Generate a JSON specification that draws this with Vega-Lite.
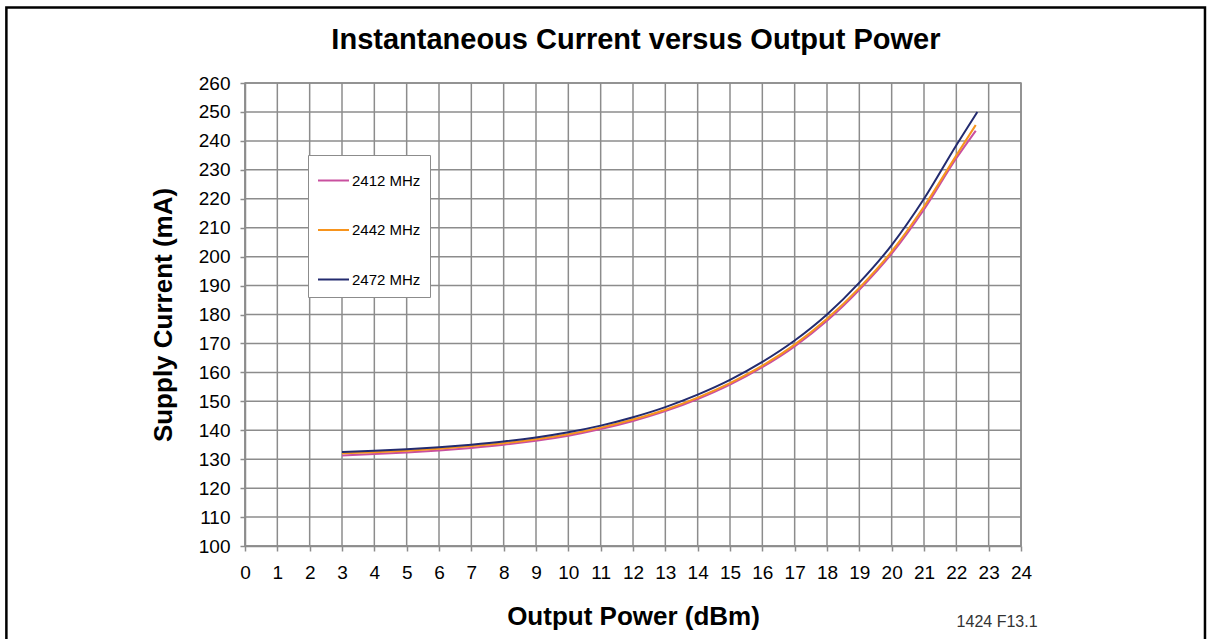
{
  "$schema": "https://vega.github.io/schema/vega-lite/v6.json",
  "width": 776,
  "height": 463,
  "autosize": {"type": "none"},
  "padding": {"left": 245, "top": 83, "right": 191, "bottom": 93},
  "background": "white",
  "config": {
    "font": "Liberation Sans",
    "view": {"stroke": "#8c8c8c", "strokeWidth": 1.5},
    "axis": {
      "grid": false,
      "domainColor": "#8c8c8c",
      "domainWidth": 1.5,
      "tickColor": "#8c8c8c",
      "tickWidth": 1.5,
      "tickSize": 5,
      "labelOverlap": false,
      "labelFont": "Liberation Sans",
      "labelFontSize": 19,
      "labelColor": "#000000",
      "titleFont": "Liberation Sans",
      "titleFontSize": 26,
      "titleFontWeight": "bold",
      "titleColor": "#000000"
    }
  },
  "datasets": {
    "vgrid": [
      {"gx": 0}, {"gx": 1}, {"gx": 2}, {"gx": 3}, {"gx": 4}, {"gx": 5}, {"gx": 6}, {"gx": 7}, {"gx": 8},
      {"gx": 9}, {"gx": 10}, {"gx": 11}, {"gx": 12}, {"gx": 13}, {"gx": 14}, {"gx": 15}, {"gx": 16},
      {"gx": 17}, {"gx": 18}, {"gx": 19}, {"gx": 20}, {"gx": 21}, {"gx": 22}, {"gx": 23}, {"gx": 24}
    ],
    "hgrid": [
      {"gy": 100}, {"gy": 110}, {"gy": 120}, {"gy": 130}, {"gy": 140}, {"gy": 150}, {"gy": 160}, {"gy": 170},
      {"gy": 180}, {"gy": 190}, {"gy": 200}, {"gy": 210}, {"gy": 220}, {"gy": 230}, {"gy": 240}, {"gy": 250}, {"gy": 260}
    ],
    "curves": [
      {"p": 3, "i": 131.3, "f": "2412 MHz"},
      {"p": 4, "i": 131.8, "f": "2412 MHz"},
      {"p": 5, "i": 132.3, "f": "2412 MHz"},
      {"p": 6, "i": 133.0, "f": "2412 MHz"},
      {"p": 7, "i": 133.9, "f": "2412 MHz"},
      {"p": 8, "i": 135.0, "f": "2412 MHz"},
      {"p": 9, "i": 136.4, "f": "2412 MHz"},
      {"p": 10, "i": 138.1, "f": "2412 MHz"},
      {"p": 11, "i": 140.4, "f": "2412 MHz"},
      {"p": 12, "i": 143.2, "f": "2412 MHz"},
      {"p": 13, "i": 146.6, "f": "2412 MHz"},
      {"p": 14, "i": 150.8, "f": "2412 MHz"},
      {"p": 15, "i": 155.8, "f": "2412 MHz"},
      {"p": 16, "i": 161.8, "f": "2412 MHz"},
      {"p": 17, "i": 169.0, "f": "2412 MHz"},
      {"p": 18, "i": 177.8, "f": "2412 MHz"},
      {"p": 19, "i": 188.5, "f": "2412 MHz"},
      {"p": 20, "i": 201.0, "f": "2412 MHz"},
      {"p": 21, "i": 216.3, "f": "2412 MHz"},
      {"p": 22, "i": 234.0, "f": "2412 MHz"},
      {"p": 22.6, "i": 243.5, "f": "2412 MHz"},
      {"p": 3, "i": 132.0, "f": "2442 MHz"},
      {"p": 4, "i": 132.4, "f": "2442 MHz"},
      {"p": 5, "i": 132.9, "f": "2442 MHz"},
      {"p": 6, "i": 133.6, "f": "2442 MHz"},
      {"p": 7, "i": 134.5, "f": "2442 MHz"},
      {"p": 8, "i": 135.5, "f": "2442 MHz"},
      {"p": 9, "i": 136.9, "f": "2442 MHz"},
      {"p": 10, "i": 138.6, "f": "2442 MHz"},
      {"p": 11, "i": 140.9, "f": "2442 MHz"},
      {"p": 12, "i": 143.7, "f": "2442 MHz"},
      {"p": 13, "i": 147.1, "f": "2442 MHz"},
      {"p": 14, "i": 151.3, "f": "2442 MHz"},
      {"p": 15, "i": 156.3, "f": "2442 MHz"},
      {"p": 16, "i": 162.3, "f": "2442 MHz"},
      {"p": 17, "i": 169.6, "f": "2442 MHz"},
      {"p": 18, "i": 178.5, "f": "2442 MHz"},
      {"p": 19, "i": 189.2, "f": "2442 MHz"},
      {"p": 20, "i": 201.8, "f": "2442 MHz"},
      {"p": 21, "i": 217.3, "f": "2442 MHz"},
      {"p": 22, "i": 235.0, "f": "2442 MHz"},
      {"p": 22.6, "i": 245.5, "f": "2442 MHz"},
      {"p": 3, "i": 132.5, "f": "2472 MHz"},
      {"p": 4, "i": 132.9, "f": "2472 MHz"},
      {"p": 5, "i": 133.4, "f": "2472 MHz"},
      {"p": 6, "i": 134.1, "f": "2472 MHz"},
      {"p": 7, "i": 135.0, "f": "2472 MHz"},
      {"p": 8, "i": 136.1, "f": "2472 MHz"},
      {"p": 9, "i": 137.5, "f": "2472 MHz"},
      {"p": 10, "i": 139.3, "f": "2472 MHz"},
      {"p": 11, "i": 141.6, "f": "2472 MHz"},
      {"p": 12, "i": 144.5, "f": "2472 MHz"},
      {"p": 13, "i": 148.0, "f": "2472 MHz"},
      {"p": 14, "i": 152.3, "f": "2472 MHz"},
      {"p": 15, "i": 157.4, "f": "2472 MHz"},
      {"p": 16, "i": 163.6, "f": "2472 MHz"},
      {"p": 17, "i": 171.0, "f": "2472 MHz"},
      {"p": 18, "i": 180.0, "f": "2472 MHz"},
      {"p": 19, "i": 191.0, "f": "2472 MHz"},
      {"p": 20, "i": 204.0, "f": "2472 MHz"},
      {"p": 21, "i": 220.0, "f": "2472 MHz"},
      {"p": 22, "i": 238.5, "f": "2472 MHz"},
      {"p": 22.65, "i": 250.0, "f": "2472 MHz"}
    ],
    "frame": [{"p": -7.38, "p2": 29.69, "i": 286.05, "i2": 55}],
    "note": [{"p": 23.26, "i": 73.65, "t": "1424 F13.1"}],
    "heading": [{"p": 12.09, "i": 274.8, "t": "Instantaneous Current versus Output Power"}]
  },
  "resolve": {"scale": {"x": "independent", "y": "independent"}},
  "layer": [
    {
      "data": {"name": "vgrid"},
      "mark": {"type": "rule", "color": "#8c8c8c", "strokeWidth": 1.5},
      "encoding": {
        "x": {
          "field": "gx", "type": "ordinal",
          "scale": {"type": "point", "domain": [0,1,2,3,4,5,6,7,8,9,10,11,12,13,14,15,16,17,18,19,20,21,22,23,24], "padding": 0},
          "axis": {"labelAngle": 0, "labelPadding": 12, "title": "Output Power (dBm)", "titlePadding": 21, "orient": "bottom"}
        }
      }
    },
    {
      "data": {"name": "hgrid"},
      "mark": {"type": "rule", "color": "#8c8c8c", "strokeWidth": 1.5},
      "encoding": {
        "y": {
          "field": "gy", "type": "ordinal",
          "scale": {"type": "point", "domain": [260,250,240,230,220,210,200,190,180,170,160,150,140,130,120,110,100], "padding": 0},
          "axis": {"labelPadding": 10, "title": "Supply Current (mA)", "titlePadding": 22, "orient": "left"}
        }
      }
    },
    {
      "encoding": {
        "x": {"field": "p", "type": "quantitative", "scale": {"domain": [0, 24], "nice": false, "zero": false}, "axis": null},
        "y": {"field": "i", "type": "quantitative", "scale": {"domain": [100, 260], "nice": false, "zero": false}, "axis": null}
      },
      "layer": [
        {
          "data": {"name": "curves"},
          "mark": {"type": "line", "strokeWidth": 2, "interpolate": "monotone"},
          "encoding": {
            "color": {
              "field": "f", "type": "nominal",
              "scale": {"domain": ["2412 MHz", "2442 MHz", "2472 MHz"], "range": ["#c9509f", "#f7941d", "#232b6f"]},
              "legend": {
                "title": null,
                "orient": "none",
                "legendX": 63,
                "legendY": 72,
                "symbolType": "stroke",
                "symbolSize": 961,
                "symbolStrokeWidth": 2,
                "labelFontSize": 15,
                "labelFont": "Liberation Sans",
                "labelColor": "#000000",
                "labelOffset": 2,
                "rowPadding": 24.5,
                "padding": 9,
                "fillColor": "white",
                "strokeColor": "#8c8c8c"
              }
            }
          }
        },
        {
          "data": {"name": "frame"},
          "mark": {"type": "rect", "fill": null, "stroke": "#000000", "strokeWidth": 2.5, "clip": false},
          "encoding": {
            "x2": {"field": "p2"},
            "y2": {"field": "i2"}
          }
        },
        {
          "data": {"name": "note"},
          "mark": {"type": "text", "fontSize": 16, "color": "#333333", "font": "Liberation Sans", "baseline": "middle", "clip": false},
          "encoding": {"text": {"field": "t"}}
        },
        {
          "data": {"name": "heading"},
          "mark": {"type": "text", "fontSize": 29, "fontWeight": "bold", "color": "#000000", "font": "Liberation Sans", "baseline": "middle", "clip": false},
          "encoding": {"text": {"field": "t"}}
        }
      ]
    }
  ]
}
